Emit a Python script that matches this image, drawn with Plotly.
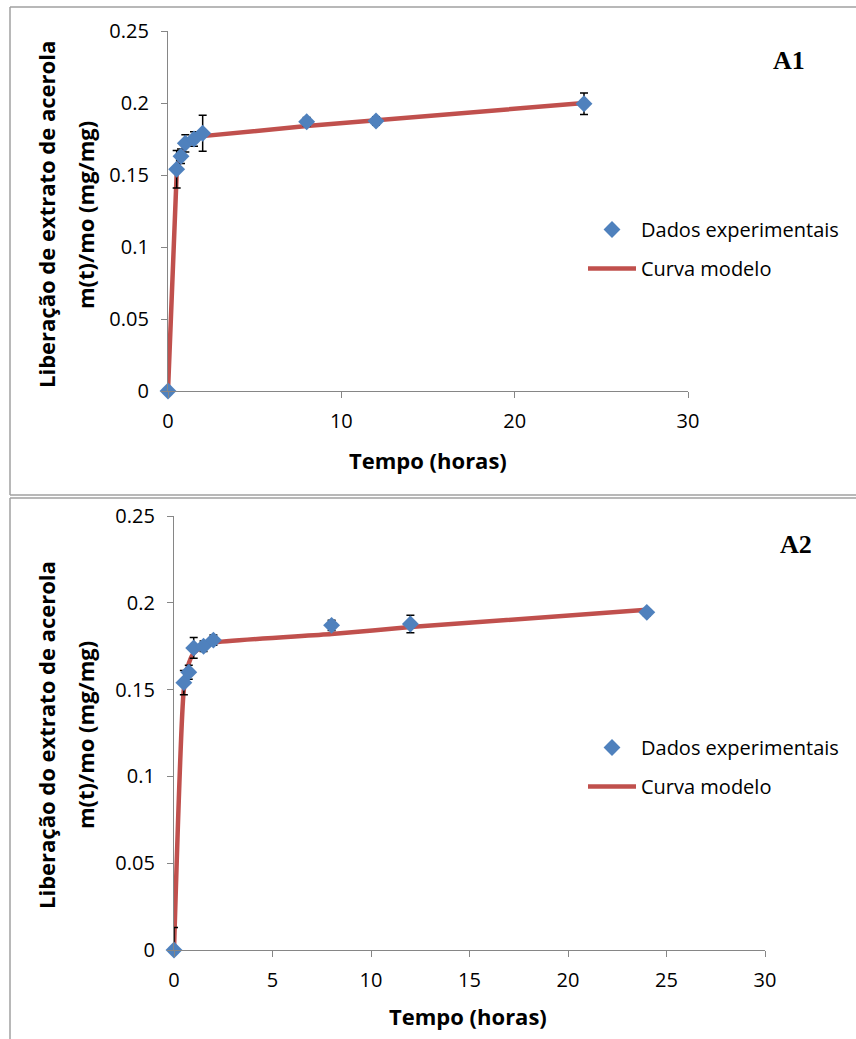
import plotly.graph_objects as go

# ---------------- data ----------------
t_exp = [0, 0.5, 0.75, 1, 1.5, 2, 8, 12, 24]

a1_exp = [0, 0.154, 0.163, 0.172, 0.175, 0.179, 0.187, 0.1875, 0.1995]
a1_err_plus = [0, 0.013, 0.005, 0.006, 0.005, 0.0125, 0.003, 0.003, 0.0075]
a1_err_minus = [0, 0.013, 0.005, 0.006, 0.005, 0.0125, 0.003, 0.003, 0.0075]

a2_exp = [0, 0.154, 0.160, 0.174, 0.175, 0.1785, 0.187, 0.1878, 0.1945]
a2_err_plus = [0.013, 0.007, 0.004, 0.006, 0.003, 0.003, 0.003, 0.005, 0.002]
a2_err_minus = [0, 0.007, 0.004, 0.006, 0.003, 0.003, 0.003, 0.005, 0.002]

t_model = [0, 0.5, 0.75, 1, 1.5, 2, 8, 12, 24]
a1_model = [0, 0.151, 0.165, 0.171, 0.175, 0.177, 0.184, 0.188, 0.200]
a2_model = [0, 0.150, 0.165, 0.171, 0.175, 0.177, 0.182, 0.186, 0.196]

legend_labels = ["Dados experimentais", "Curva modelo"]
y_title_a1 = ["Liberação de extrato de acerola", "m(t)/mo (mg/mg)"]
y_title_a2 = ["Liberação do extrato de acerola", "m(t)/mo (mg/mg)"]
x_title = "Tempo (horas)"
panel_labels = ["A1", "A2"]

# ---------------- style ----------------
W, H = 856, 1039
BLUE = "#4F81BD"
RED = "#C0504D"
AXIS = "#868686"
FRAME = "#A0A0A0"
FONT = "Open Sans, Liberation Sans, sans-serif"
SERIF = "Liberation Serif, Times New Roman, serif"

def px_x(p):
    return p / W

def px_y(p):
    return 1 - p / H

fig = go.Figure()

# Top chart (A1)
fig.add_trace(go.Scatter(
    x=t_model, y=a1_model, mode="lines", name=legend_labels[1],
    line=dict(color=RED, width=4.5), xaxis="x", yaxis="y",
    legend="legend", legendgroup="m1", legendrank=2, cliponaxis=False))
fig.add_trace(go.Scatter(
    x=t_exp, y=a1_exp, mode="markers", name=legend_labels[0],
    marker=dict(symbol="diamond", size=13, color=BLUE),
    error_y=dict(type="data", symmetric=False, array=a1_err_plus,
                 arrayminus=a1_err_minus, color="black", thickness=1.5, width=4),
    xaxis="x", yaxis="y", legend="legend", legendgroup="d1", legendrank=1,
    cliponaxis=False))

# Bottom chart (A2)
fig.add_trace(go.Scatter(
    x=t_model, y=a2_model, mode="lines", name=legend_labels[1],
    line=dict(color=RED, width=4.5, shape="spline", smoothing=0.6),
    xaxis="x2", yaxis="y2", legend="legend2", legendgroup="m2", legendrank=2,
    cliponaxis=False))
fig.add_trace(go.Scatter(
    x=t_exp, y=a2_exp, mode="markers", name=legend_labels[0],
    marker=dict(symbol="diamond", size=13, color=BLUE),
    error_y=dict(type="data", symmetric=False, array=a2_err_plus,
                 arrayminus=a2_err_minus, color="black", thickness=1.5, width=4),
    xaxis="x2", yaxis="y2", legend="legend2", legendgroup="d2", legendrank=1,
    cliponaxis=False))

tickfont = dict(family=FONT, size=20, color="black")
titlefont = dict(family=FONT, size=22, color="black", weight="bold")

def xaxis(domain, dtick, anchor):
    return dict(domain=domain, range=[0, 30], dtick=dtick, anchor=anchor,
                showgrid=False, zeroline=False, showline=True, linecolor=AXIS,
                linewidth=1.3, ticks="outside", ticklen=6, tickcolor=AXIS,
                tickwidth=1.3, tickfont=tickfont, ticklabelstandoff=6,
                automargin=False)

def yaxis(domain, anchor):
    return dict(domain=domain, range=[0, 0.25], dtick=0.05, anchor=anchor,
                showgrid=False, zeroline=False, showline=True, linecolor=AXIS,
                linewidth=1.3, ticks="outside", ticklen=6, tickcolor=AXIS,
                tickwidth=1.3, tickfont=tickfont, ticklabelstandoff=8,
                automargin=False)

legfont = dict(family=FONT, size=20, color="black")

def txt(text, x, y, font, angle=0):
    return dict(text=text, x=px_x(x), y=px_y(y), xref="paper", yref="paper",
                showarrow=False, font=font, textangle=angle,
                xanchor="center", yanchor="middle")

annotations = [
    # axis titles, top chart
    txt(x_title, 428, 460, titlefont),
    txt(y_title_a1[0], 46, 215, titlefont, -90),
    txt(y_title_a1[1], 85, 215, titlefont, -90),
    # axis titles, bottom chart
    txt(x_title, 468, 1016, titlefont),
    txt(y_title_a2[0], 46, 735, titlefont, -90),
    txt(y_title_a2[1], 85, 735, titlefont, -90),
    # panel labels
    txt("<b>" + panel_labels[0] + "</b>", 789, 60, dict(family=SERIF, size=26, color="black")),
    txt("<b>" + panel_labels[1] + "</b>", 796, 544, dict(family=SERIF, size=26, color="black")),
]

fig.update_layout(
    width=W, height=H,
    margin=dict(l=0, r=0, t=0, b=0),
    paper_bgcolor="white", plot_bgcolor="white",
    xaxis=xaxis([px_x(168), px_x(688)], 10, "y"),
    yaxis=yaxis([px_y(391), px_y(31)], "x"),
    xaxis2=xaxis([px_x(174), px_x(765)], 5, "y2"),
    yaxis2=yaxis([px_y(950), px_y(516)], "x2"),
    legend=dict(x=px_x(583), y=px_y(210), xanchor="left", yanchor="top",
                font=legfont, bgcolor="rgba(0,0,0,0)", itemwidth=48,
                traceorder="grouped", tracegroupgap=10),
    legend2=dict(x=px_x(583), y=px_y(728), xanchor="left", yanchor="top",
                 font=legfont, bgcolor="rgba(0,0,0,0)", itemwidth=48,
                 traceorder="grouped", tracegroupgap=10),
    annotations=annotations,
    shapes=[
        # frame of top chart
        dict(type="line", xref="paper", yref="paper", x0=px_x(10), x1=1.01,
             y0=px_y(7), y1=px_y(7), line=dict(color=FRAME, width=1.5)),
        dict(type="line", xref="paper", yref="paper", x0=px_x(10), x1=px_x(10),
             y0=px_y(7), y1=px_y(495), line=dict(color=FRAME, width=1.5)),
        dict(type="line", xref="paper", yref="paper", x0=px_x(10), x1=1.01,
             y0=px_y(495), y1=px_y(495), line=dict(color=FRAME, width=1.5)),
        # frame of bottom chart
        dict(type="line", xref="paper", yref="paper", x0=px_x(10), x1=1.01,
             y0=px_y(498), y1=px_y(498), line=dict(color=FRAME, width=1.5)),
        dict(type="line", xref="paper", yref="paper", x0=px_x(10), x1=px_x(10),
             y0=px_y(498), y1=-0.01, line=dict(color=FRAME, width=1.5)),
    ],
)

fig.write_html("out.html")
